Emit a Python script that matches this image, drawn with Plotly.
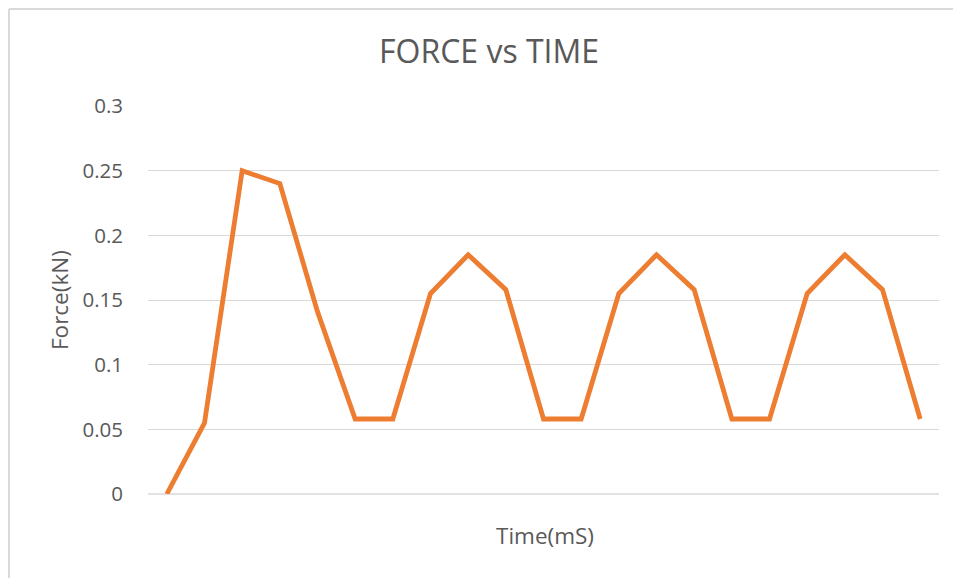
import plotly.graph_objects as go

time_points = list(range(1, 22))
force_kn = [0, 0.055, 0.25, 0.24, 0.141, 0.058, 0.058, 0.155, 0.185, 0.158,
            0.058, 0.058, 0.155, 0.185, 0.158, 0.058, 0.058, 0.155, 0.185, 0.158, 0.058]
y_ticks = [0, 0.05, 0.1, 0.15, 0.2, 0.25, 0.3]
y_tick_labels = ["0", "0.05", "0.1", "0.15", "0.2", "0.25", "0.3"]

# page has an 8px body margin, so the figure is offset by 8px
OFF = 8
W, H = 961 - OFF, 578 - OFF
L, R, T, B = 148 - OFF, 22, 106 - OFF, 84
pw, ph = W - L - R, H - T - B

def px(x):  # page pixel -> paper
    return (x - OFF - L) / pw

def py(y):
    return (H + OFF - B - y) / ph

fig = go.Figure()
fig.add_trace(go.Scatter(
    x=time_points, y=force_kn, mode="lines",
    line=dict(color="#ED7D31", width=4.8),
    hoverinfo="skip",
))

font_family = "Open Sans, Liberation Sans, sans-serif"
fig.update_layout(
    width=W, height=H,
    margin=dict(l=L, r=R, t=T, b=B),
    paper_bgcolor="white", plot_bgcolor="white",
    showlegend=False,
    font=dict(family=font_family, color="#595959", size=18),
    xaxis=dict(
        range=[0.5, 21.5], showticklabels=False, showgrid=False,
        zeroline=False, showline=False, ticks="",
    ),
    yaxis=dict(
        range=[0, 0.3], tickvals=y_ticks, ticktext=y_tick_labels,
        showgrid=True, gridcolor="#D9D9D9", gridwidth=1.3,
        zeroline=False, showline=False, ticks="",
        ticklabelstandoff=24,
        tickfont=dict(size=20.5, color="#595959"),
    ),
    shapes=[
        dict(type="line", xref="paper", yref="paper", x0=0, x1=1, y0=0, y1=0,
             line=dict(color="#D9D9D9", width=1.3), layer="below"),
        dict(type="line", xref="paper", yref="paper", x0=px(9), x1=px(9), y0=py(9), y1=py(H + 30),
             line=dict(color="#D9D9D9", width=2)),
        dict(type="line", xref="paper", yref="paper", x0=px(9), x1=px(W + 30), y0=py(9), y1=py(9),
             line=dict(color="#D9D9D9", width=2)),
    ],
    annotations=[
        dict(text="FORCE vs TIME", xref="paper", yref="paper", x=px(489), y=py(50),
             xanchor="center", yanchor="middle", showarrow=False,
             font=dict(size=32, color="#595959", family=font_family)),
        dict(text="Time(mS)", xref="paper", yref="paper", x=px(545), y=py(535),
             xanchor="center", yanchor="middle", showarrow=False,
             font=dict(size=22.5, color="#595959", family=font_family)),
        dict(text="Force(kN)", xref="paper", yref="paper", x=px(59), y=py(300),
             xanchor="center", yanchor="middle", showarrow=False, textangle=-90,
             font=dict(size=22.5, color="#595959", family=font_family)),
    ],
)

fig.write_html("out.html")
